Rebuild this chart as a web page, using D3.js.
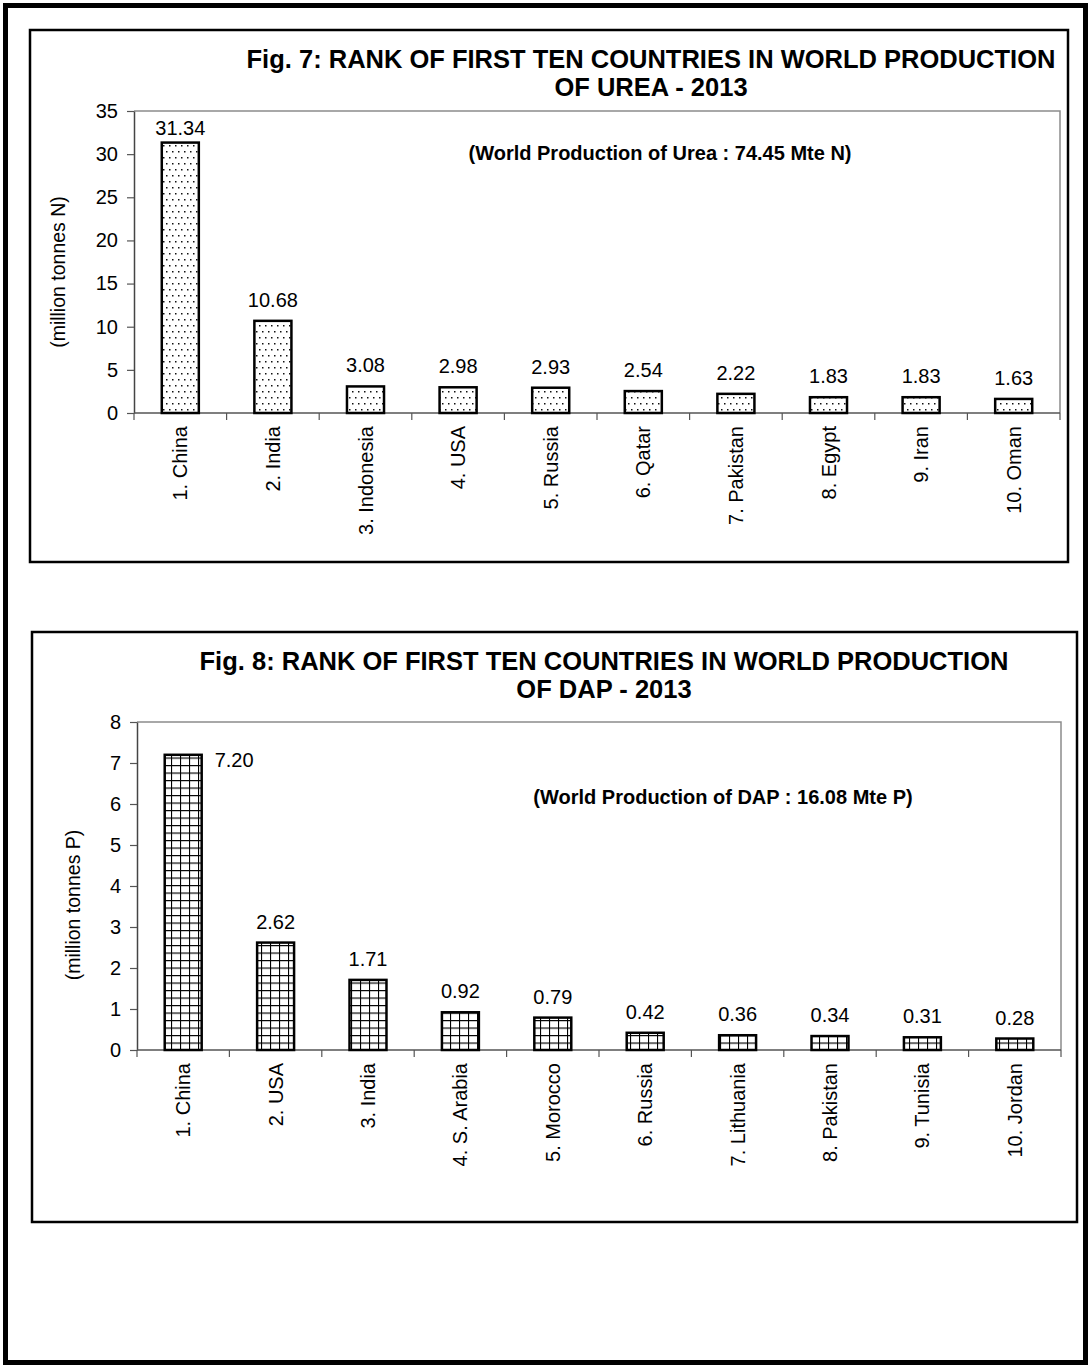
<!DOCTYPE html>
<html><head><meta charset="utf-8">
<script src="https://cdn.jsdelivr.net/npm/d3@7/dist/d3.min.js"></script>
<style>
body{margin:0;background:#fff}
text{font-family:"Liberation Sans",Arial,Helvetica,sans-serif;fill:#000}
</style>
</head><body>
<svg id="c" width="1088" height="1365"></svg>
<script>
// ---- data ----
const ureaCategories = ["1. China","2. India","3. Indonesia","4. USA","5. Russia","6. Qatar","7. Pakistan","8. Egypt","9. Iran","10. Oman"];
const ureaValues = [31.34,10.68,3.08,2.98,2.93,2.54,2.22,1.83,1.83,1.63];
const ureaTicks = [0,5,10,15,20,25,30,35];
const ureaTitle = ["Fig. 7: RANK OF FIRST TEN COUNTRIES IN WORLD PRODUCTION","OF UREA - 2013"];
const ureaNote = "(World Production of Urea : 74.45 Mte N)";
const ureaAxisTitle = "(million tonnes N)";

const dapCategories = ["1. China","2. USA","3. India","4. S. Arabia","5. Morocco","6. Russia","7. Lithuania","8. Pakistan","9. Tunisia","10. Jordan"];
const dapValues = [7.20,2.62,1.71,0.92,0.79,0.42,0.36,0.34,0.31,0.28];
const dapTicks = [0,1,2,3,4,5,6,7,8];
const dapTitle = ["Fig. 8: RANK OF FIRST TEN COUNTRIES IN WORLD PRODUCTION","OF DAP - 2013"];
const dapNote = "(World Production of DAP : 16.08 Mte P)";
const dapAxisTitle = "(million tonnes P)";

// ---- drawing ----
const svg = d3.select("#c");
const defs = svg.append("defs");

const dots = defs.append("pattern").attr("id","dots").attr("patternUnits","userSpaceOnUse")
  .attr("width",6).attr("height",12);
dots.append("rect").attr("width",6).attr("height",12).attr("fill","#fff");
dots.append("rect").attr("x",1).attr("y",1).attr("width",1.5).attr("height",1.5).attr("fill","#111");
dots.append("rect").attr("x",4).attr("y",7).attr("width",1.5).attr("height",1.5).attr("fill","#111");

const grid = defs.append("pattern").attr("id","grid").attr("patternUnits","userSpaceOnUse")
  .attr("width",9).attr("height",7.5);
grid.append("rect").attr("width",9).attr("height",7.5).attr("fill","#fff");
grid.append("path").attr("d","M0,0.5H9M0.5,0V7.5").attr("stroke","#000").attr("stroke-width",1.2).attr("fill","none");

// outer page frame
svg.append("rect").attr("x",5.5).attr("y",5.5).attr("width",1080).attr("height",1357)
  .attr("fill","none").attr("stroke","#000").attr("stroke-width",5);

function drawChart(o){
  const g = svg.append("g");
  g.append("rect").attr("x",o.box[0]).attr("y",o.box[1]).attr("width",o.box[2]-o.box[0]).attr("height",o.box[3]-o.box[1])
    .attr("fill","none").attr("stroke","#000").attr("stroke-width",2.5);

  o.title.forEach((t,i)=>{
    g.append("text").attr("x",o.titleX).attr("y",o.titleY + i*28).attr("text-anchor","middle")
      .attr("font-size",25.5).attr("font-weight","bold").text(t);
  });

  const x = d3.scaleBand().domain(o.cats).range([o.left,o.right]).paddingInner(0.6).paddingOuter(0.3);
  const y = d3.scaleLinear().domain([0,o.ticks[o.ticks.length-1]]).range([o.bottom,o.top]);
  const step = x.step();

  // plot frame (top/right)
  g.append("path").attr("d",`M${o.left},${o.top}H${o.right}V${o.bottom}`)
    .attr("fill","none").attr("stroke","#8c8c8c").attr("stroke-width",1.5);

  // y axis
  const ya = g.append("g").attr("transform",`translate(${o.left},0)`)
    .call(d3.axisLeft(y).tickValues(o.ticks).tickSize(7).tickPadding(9).tickSizeOuter(0));
  ya.select(".domain").attr("stroke","#444").attr("stroke-width",1.5);
  ya.selectAll(".tick line").attr("stroke","#555").attr("stroke-width",1.2);
  ya.selectAll(".tick text").attr("font-size",20).attr("font-family","Liberation Sans, Arial, sans-serif").attr("fill","#000");

  // x axis line + boundary ticks
  g.append("line").attr("x1",o.left).attr("x2",o.right).attr("y1",o.bottom).attr("y2",o.bottom)
    .attr("stroke","#555").attr("stroke-width",1.5);
  d3.range(o.cats.length+1).forEach(i=>{
    const xx = o.left + i*step;
    g.append("line").attr("x1",xx).attr("x2",xx).attr("y1",o.bottom).attr("y2",o.bottom+7)
      .attr("stroke","#555").attr("stroke-width",1.2);
  });

  // bars
  g.selectAll("rect.bar").data(o.vals).join("rect").attr("class","bar")
    .attr("x",(d,i)=>x(o.cats[i])).attr("width",x.bandwidth())
    .attr("y",d=>y(d)).attr("height",d=>y(0)-y(d))
    .attr("fill",`url(#${o.pattern})`).attr("stroke","#000").attr("stroke-width",2.5);

  // value labels
  o.vals.forEach((d,i)=>{
    const cx = x(o.cats[i]) + x.bandwidth()/2;
    let ty = y(d) - 14;
    const t = g.append("text").attr("font-size",20).text(d.toFixed(2));
    if (ty < o.top + 24){
      if (o.overflow === "right"){
        t.attr("x", x(o.cats[i]) + x.bandwidth() + 13).attr("y", y(d) + 12).attr("text-anchor","start");
        return;
      }
      ty = o.top + 24;
    }
    t.attr("x",cx).attr("y",ty).attr("text-anchor","middle");
  });

  // category labels
  o.cats.forEach(c=>{
    const cx = x(c) + x.bandwidth()/2;
    g.append("text").attr("transform",`translate(${cx},${o.bottom+13}) rotate(-90)`)
      .attr("text-anchor","end").attr("dy","0.35em").attr("font-size",20).text(c);
  });

  // axis title
  g.append("text").attr("transform",`translate(${o.axisTitleX},${o.axisTitleY}) rotate(-90)`)
    .attr("text-anchor","middle").attr("dy","0.35em").attr("font-size",19.5).text(o.axisTitle);

  // note
  g.append("text").attr("x",o.noteX).attr("y",o.noteY).attr("text-anchor","middle")
    .attr("font-size",20).attr("font-weight","bold").text(o.note);
}

drawChart({
  box:[30,30,1068,562], title:ureaTitle, titleX:651, titleY:68,
  cats:ureaCategories, vals:ureaValues, ticks:ureaTicks,
  left:134, right:1060, top:111, bottom:413, pattern:"dots", overflow:"clamp",
  axisTitle:ureaAxisTitle, axisTitleX:58, axisTitleY:272,
  note:ureaNote, noteX:660, noteY:160
});

drawChart({
  box:[32,632,1077,1222], title:dapTitle, titleX:604, titleY:670,
  cats:dapCategories, vals:dapValues, ticks:dapTicks,
  left:137, right:1061, top:722, bottom:1050, pattern:"grid", overflow:"right",
  axisTitle:dapAxisTitle, axisTitleX:73, axisTitleY:905,
  note:dapNote, noteX:723, noteY:804
});
</script>
</body></html>
